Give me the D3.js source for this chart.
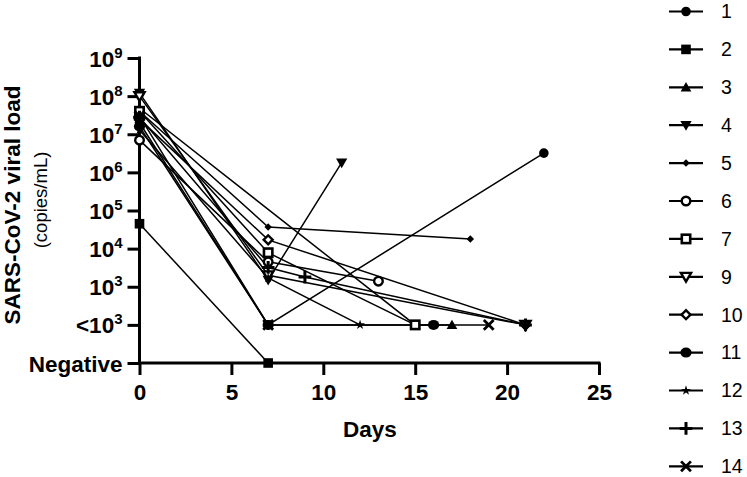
<!DOCTYPE html>
<html><head><meta charset="utf-8">
<script src="https://cdn.jsdelivr.net/npm/d3@7"></script>
<style>body{margin:0;background:#fff}svg{display:block}text{font-family:"Liberation Sans",Arial,sans-serif}</style>
</head><body><svg id="c" width="747" height="477"></svg>
<script>
// Special plotted levels
const NEG = 10;    // "Negative"
const LOD = 100;   // "<10^3"

const seriesNames = ["1","2","3","4","5","6","7","9","10","11","12","13","14"];
const seriesDays = [
  [0,7,22],
  [0,7],
  [0,15,17],
  [0,7,11],
  [0,7,18],
  [0,7,13],
  [0,7,15],
  [0,7,21],
  [0,7,21],
  [0,7,16],
  [0,7,12],
  [0,7,9,21],
  [0,7,19]
];
const seriesLoads = [
  [2.0e7, LOD, 3.2e6],
  [4.5e4, NEG],
  [4.8e7, LOD, LOD],
  [1.2e8, 1.5e3, 1.8e6],
  [4.0e7, 3.7e4, 1.8e4],
  [7.0e6, 4.5e3, 1.4e3],
  [4.0e7, 7.8e3, LOD],
  [1.0e8, 2.0e3, LOD],
  [2.5e7, 1.7e4, LOD],
  [1.6e7, LOD, LOD],
  [1.3e7, 1.7e3, LOD],
  [2.8e7, 3.2e3, 1.8e3, LOD],
  [3.0e7, LOD, LOD]
];
const markerTypes = ["circle","square","triangle","triangleDown","diamondSmall","circleOpen","squareOpen","triangleDownOpen","diamondOpen","circleBig","star","plus","times"];

const yTickValues = [10,100,1e3,1e4,1e5,1e6,1e7,1e8,1e9];
const yTickLabels = [["Negative",""],["<10","3"],["10","3"],["10","4"],["10","5"],["10","6"],["10","7"],["10","8"],["10","9"]];
const xTickValues = [0,5,10,15,20,25];

const svg = d3.select("#c");
const x = d3.scaleLinear().domain([0,25]).range([139.5,599]);
const y = d3.scaleLog().domain([10,1e9]).range([363,58]);

// axes
const gx = svg.append("g").attr("transform","translate(0,363)")
  .call(d3.axisBottom(x).tickValues(xTickValues).tickSize(12).tickPadding(9).tickFormat(d3.format("d")));
const gy = svg.append("g").attr("transform","translate(139.5,0)")
  .call(d3.axisLeft(y).tickValues(yTickValues).tickSize(12).tickFormat(""));
gx.select(".domain").attr("stroke","#000").attr("stroke-width",3).attr("d","M138,0H600.5");
gy.select(".domain").attr("stroke","#000").attr("stroke-width",3).attr("d","M0,56.5V363");
[gx,gy].forEach(g=>g.selectAll(".tick line").attr("stroke","#000").attr("stroke-width",3));
gx.selectAll(".tick text").attr("font-size",22.5).attr("font-weight","bold").attr("fill","#000")
  .attr("font-family","Liberation Sans, Arial, sans-serif");

// y tick labels with superscripts
gy.selectAll(".tick").each(function(d,i){
  const t = d3.select(this).append("text").attr("x",-17).attr("dy","0.36em")
    .attr("text-anchor","end").attr("fill","#000").attr("font-weight","bold").attr("font-size",22.5)
    .attr("font-family","Liberation Sans, Arial, sans-serif");
  t.append("tspan").text(yTickLabels[i][0]);
  if (yTickLabels[i][1]) t.append("tspan").attr("font-size",15).attr("dy","-0.6em").text(yTickLabels[i][1]);
});

// axis titles
svg.append("text").attr("x",370).attr("y",437).attr("text-anchor","middle")
  .attr("font-weight","bold").attr("font-size",22.5).text("Days");
svg.append("text").attr("transform","translate(20,205) rotate(-90)").attr("text-anchor","middle")
  .attr("font-weight","bold").attr("font-size",22.5).text("SARS-CoV-2 viral load");
svg.append("text").attr("transform","translate(47,200) rotate(-90)").attr("text-anchor","middle")
  .attr("font-size",18.5).text("(copies/mL)");

// marker drawing
function drawMarker(g, type, cx, cy){
  const m = g.append("g").attr("transform",`translate(${cx},${cy})`);
  const sym = (t,s)=>d3.symbol().type(t).size(s)();
  switch(type){
    case "circle": m.append("circle").attr("r",4.8).attr("fill","#000"); break;
    case "circleBig": m.append("ellipse").attr("rx",5.6).attr("ry",5).attr("fill","#000"); break;
    case "square": m.append("rect").attr("x",-4.8).attr("y",-4.8).attr("width",9.6).attr("height",9.6).attr("fill","#000"); break;
    case "triangle": m.append("path").attr("d",sym(d3.symbolTriangle,50)).attr("transform","translate(0,1)").attr("fill","#000"); break;
    case "triangleDown": m.append("path").attr("d",sym(d3.symbolTriangle,55)).attr("transform","translate(0,-1) rotate(180)").attr("fill","#000"); break;
    case "diamondSmall": m.append("path").attr("d",sym(d3.symbolSquare,28)).attr("transform","rotate(45)").attr("fill","#000"); break;
    case "circleOpen": m.append("circle").attr("r",4.3).attr("fill","#fff").attr("stroke","#000").attr("stroke-width",2.4); break;
    case "squareOpen": m.append("rect").attr("x",-4.2).attr("y",-4.2).attr("width",8.4).attr("height",8.4).attr("fill","#fff").attr("stroke","#000").attr("stroke-width",2.6); break;
    case "triangleDownOpen": m.append("path").attr("d",sym(d3.symbolTriangle,45)).attr("transform","translate(0,-1) rotate(180)").attr("fill","#fff").attr("stroke","#000").attr("stroke-width",2.4); break;
    case "diamondOpen": m.append("path").attr("d",sym(d3.symbolSquare,40)).attr("transform","rotate(45)").attr("fill","#fff").attr("stroke","#000").attr("stroke-width",2.4); break;
    case "star": m.append("path").attr("d",sym(d3.symbolStar,30)).attr("fill","#000"); break;
    case "plus": m.append("path").attr("d",sym(d3.symbolPlus,55)).attr("fill","none").attr("stroke","#000").attr("stroke-width",3); break;
    case "times": m.append("path").attr("d",sym(d3.symbolTimes,65)).attr("fill","none").attr("stroke","#000").attr("stroke-width",2.8); break;
  }
}

// lines
const line = d3.line().x(d=>x(d[0])).y(d=>y(d[1]));
const plot = svg.append("g");
seriesNames.forEach((n,i)=>{
  const pts = seriesDays[i].map((d,j)=>[d, seriesLoads[i][j]]);
  plot.append("path").attr("d",line(pts)).attr("fill","none").attr("stroke","#000").attr("stroke-width",1.5);
});
// markers
seriesNames.forEach((n,i)=>{
  seriesDays[i].forEach((d,j)=>drawMarker(plot, markerTypes[i], x(d), y(seriesLoads[i][j])));
});

// legend
const leg = svg.append("g");
seriesNames.forEach((n,i)=>{
  const ly = 11.5 + i*37.9;
  leg.append("line").attr("x1",669).attr("x2",703).attr("y1",ly).attr("y2",ly).attr("stroke","#000").attr("stroke-width",2.2);
  drawMarker(leg, markerTypes[i], 686, ly);
  leg.append("text").attr("x",721).attr("y",ly).attr("dy","0.35em").attr("font-size",19.5).text(n);
});
</script></body></html>
